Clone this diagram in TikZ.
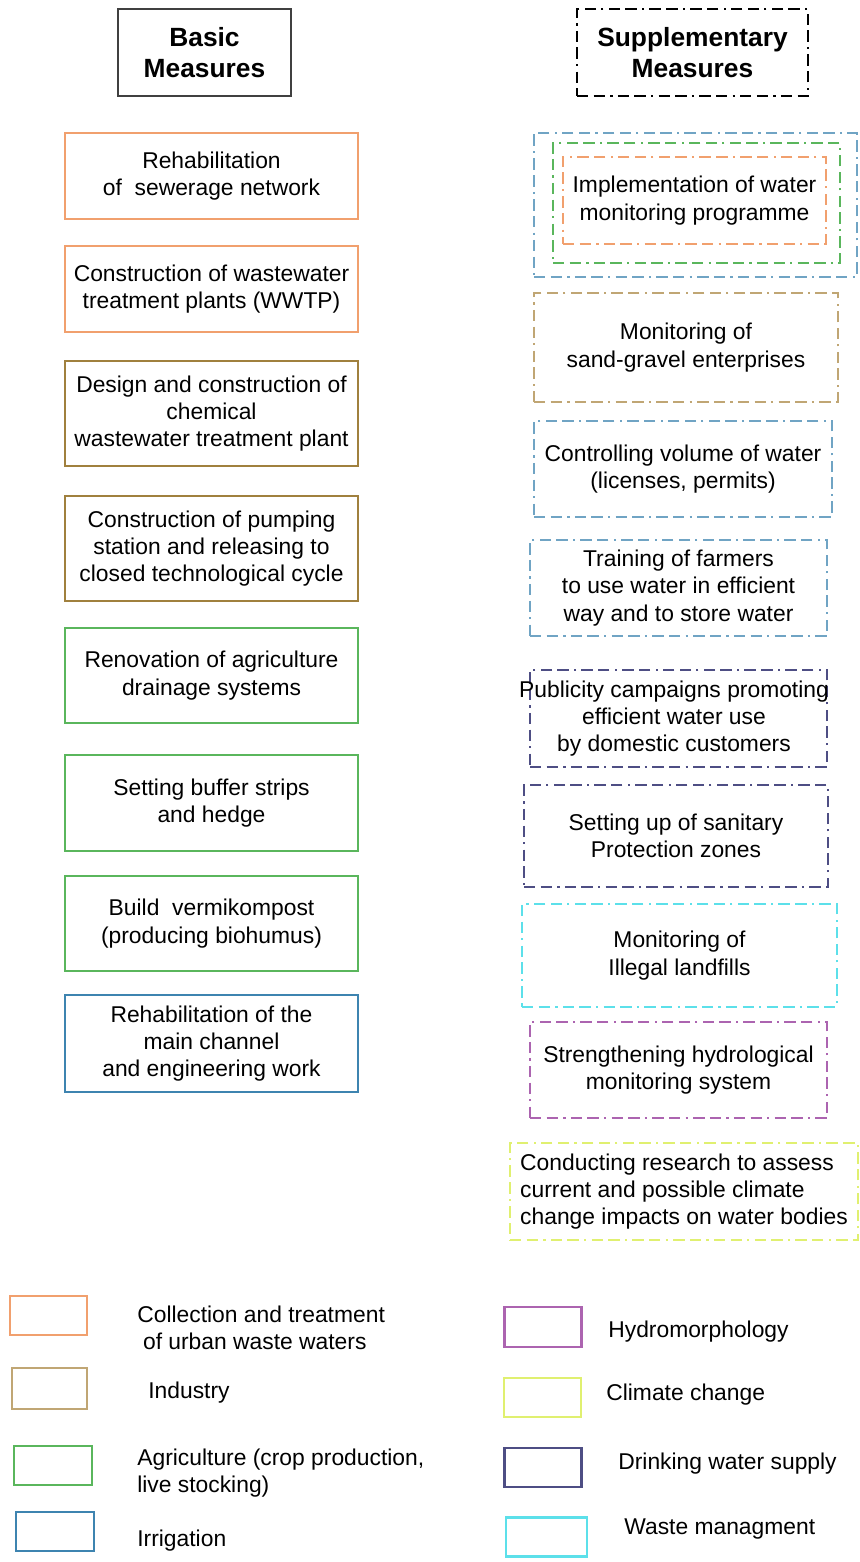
\documentclass[tikz,border=0pt]{standalone}
\usepackage{fontspec}
\setmainfont{Liberation Sans}
\usepackage{tikz}

\definecolor{urban}{RGB}{241,160,110}
\definecolor{induDark}{RGB}{160,128,62}
\definecolor{induLight}{RGB}{192,166,116}
\definecolor{agri}{RGB}{90,182,92}
\definecolor{irri}{RGB}{62,132,176}
\definecolor{irriLight}{RGB}{112,164,196}
\definecolor{drink}{RGB}{78,78,132}
\definecolor{waste}{RGB}{92,224,234}
\definecolor{hydro}{RGB}{172,100,176}
\definecolor{climate}{RGB}{224,240,112}

\begin{document}
\begin{tikzpicture}[x=0.02cm,y=-0.02cm,
  box/.style={draw,line width=0.85pt,align=center,inner sep=0pt,
    font=\fontsize{13}{15.5}\selectfont},
  dashdot/.style={dash pattern=on 6.5pt off 3pt on 6.5pt off 3pt on 1.2pt off 3pt},
  head/.style={box,font=\fontsize{15}{18}\selectfont\bfseries,
    minimum width=3.46cm,minimum height=1.74cm},
  keybox/.style={draw,line width=1.2pt,minimum width=1.54cm,minimum height=0.78cm},
  keytext/.style={anchor=west,align=left,inner sep=0pt,font=\fontsize{13}{15.5}\selectfont}]
\useasboundingbox (0,0) rectangle (859,1562);
\node[head,draw=black!75] (basic) at (204.5,52.5) {Basic\\Measures};
\node[head,dashdot,minimum width=4.62cm] (suppl) at (692.5,52.5) {Supplementary\\Measures};
\node[box,draw=urban,minimum width=5.86cm,minimum height=1.72cm] (sewer) at (211.5,176) {Rehabilitation\\of\ \ sewerage network};
\node[box,draw=urban,minimum width=5.86cm,minimum height=1.72cm] (wwtp) at (211.5,289) {Construction of wastewater\\treatment plants (WWTP)};
\node[box,draw=induDark,minimum width=5.86cm,minimum height=2.1cm] (chem) at (211.5,413.5) {Design and construction of\\chemical\\wastewater treatment plant};
\node[box,draw=induDark,minimum width=5.86cm,minimum height=2.1cm] (pump) at (211.5,548.5) {Construction of pumping\\station and releasing to\\closed technological cycle};
\node[box,draw=agri,minimum width=5.86cm,minimum height=1.9cm] (drain) at (211.5,675.5) {Renovation of agriculture\\drainage systems};
\node[box,draw=agri,minimum width=5.86cm,minimum height=1.92cm] (buffer) at (211.5,803) {Setting buffer strips\\and hedge};
\node[box,draw=agri,minimum width=5.86cm,minimum height=1.9cm] (vermi) at (211.5,923.5) {Build\ \ vermikompost\\(producing biohumus)};
\node[box,draw=irri,minimum width=5.86cm,minimum height=1.94cm] (channel) at (211.5,1043.5) {Rehabilitation of the\\main channel\\and engineering work};
\node[box,dashdot,draw=irriLight,minimum width=6.46cm,minimum height=2.88cm] (monIrri) at (695.5,205) {};
\node[box,dashdot,draw=agri,minimum width=5.74cm,minimum height=2.4cm] (monAgri) at (696.5,203) {};
\node[box,dashdot,draw=urban,minimum width=5.26cm,minimum height=1.74cm] (monUrban) at (694.5,200.5) {Implementation of water\\monitoring programme};
\node[box,dashdot,draw=induLight,minimum width=6.08cm,minimum height=2.18cm] (gravel) at (686,347.5) {Monitoring of\\sand-gravel enterprises};
\node[box,dashdot,draw=irriLight,minimum width=5.96cm,minimum height=1.92cm] (volume) at (683,469) {Controlling volume of water\\(licenses, permits)};
\node[box,dashdot,draw=irriLight,minimum width=5.94cm,minimum height=1.92cm] (farmers) at (678.5,588) {Training of farmers\\to use water in efficient\\way and to store water};
\node[box,dashdot,draw=drink,minimum width=5.94cm,minimum height=1.94cm] (public) at (678.5,718.5) {};
\node[box,draw=none] (publicText) at (674,718.5) {Publicity campaigns promoting\\efficient water use\\by domestic customers};
\node[box,dashdot,draw=drink,minimum width=6.08cm,minimum height=2.04cm] (sanitary) at (676,836) {Setting up of sanitary\\Protection zones};
\node[box,dashdot,draw=waste,minimum width=6.3cm,minimum height=2.06cm] (landfill) at (679.5,955.5) {Monitoring of\\Illegal landfills};
\node[box,dashdot,draw=hydro,minimum width=5.94cm,minimum height=1.92cm] (hydrol) at (678.5,1070) {Strengthening hydrological\\monitoring system};
\node[box,dashdot,draw=climate,align=left,minimum width=6.96cm,minimum height=1.94cm] (research) at (684,1191.5) {Conducting research to assess\\current and possible climate\\change impacts on water bodies};
\node[keybox,draw=urban] (keyUrban) at (48.5,1315.5) {};
\node[keybox,draw=induLight,minimum width=1.5cm,minimum height=0.82cm] (keyIndu) at (49.5,1388.5) {};
\node[keybox,draw=agri,minimum width=1.56cm] (keyAgri) at (53,1465.5) {};
\node[keybox,draw=irri,minimum width=1.56cm] (keyIrri) at (55,1531.5) {};
\node[keybox,draw=hydro,minimum height=0.8cm] (keyHydro) at (543,1327) {};
\node[keybox,draw=climate] (keyClimate) at (542.5,1397.5) {};
\node[keybox,draw=drink] (keyDrink) at (543,1467.5) {};
\node[keybox,draw=waste,minimum width=1.62cm] (keyWaste) at (546.5,1537) {};
\node[keytext] (txtUrban) at (137,1328) {Collection and treatment\\\hspace{0.25em}of urban waste waters};
\node[keytext] (txtIndu) at (148,1393) {Industry};
\node[keytext] (txtAgri) at (137,1473) {Agriculture (crop production,\\live stocking)};
\node[keytext] (txtIrri) at (137,1541) {Irrigation};
\node[keytext] (txtHydro) at (608,1332) {Hydromorphology};
\node[keytext] (txtClimate) at (606,1395) {Climate change};
\node[keytext] (txtDrink) at (618,1464) {Drinking water supply};
\node[keytext] (txtWaste) at (624,1529) {Waste managment};
\end{tikzpicture}
\end{document}
